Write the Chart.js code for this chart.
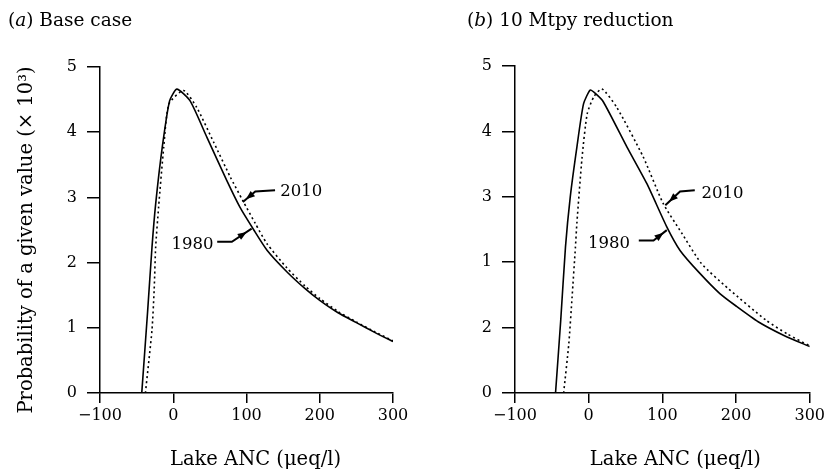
<!DOCTYPE html>
<html>
<head>
<meta charset="utf-8">
<script src="https://cdn.jsdelivr.net/npm/chart.js@4.4.1/dist/chart.umd.min.js"></script>
<style>
  body { margin: 0; background: #fff; }
  #page { position: relative; width: 828px; height: 473px; font-family: "DejaVu Serif", serif; color: #000; }
  .panel { position: absolute; top: 0; width: 414px; height: 473px; }
  .ptitle { position: absolute; top: 9px; font-size: 18.5px; white-space: nowrap; }
</style>
</head>
<body>
<div id="page">
  <div class="panel" style="left:0"><canvas id="chartA"></canvas></div>
  <div class="panel" style="left:414px"><canvas id="chartB"></canvas></div>
  <div class="ptitle" style="left:8px">(<i>a</i>) Base case</div>
  <div class="ptitle" style="left:467px">(<i>b</i>) 10 Mtpy reduction</div>
</div>
<script>
// Panel (a) base case
const ancA1980 = [-43, -35, -29, -24, -15, -5, 5, 23, 46, 73, 91, 110, 128, 155, 180, 200, 225, 250, 275, 300];
const probA1980 = [0, 1.25, 2.24, 2.9, 3.77, 4.48, 4.66, 4.48, 3.92, 3.26, 2.85, 2.5, 2.19, 1.86, 1.6, 1.42, 1.23, 1.08, 0.93, 0.79];
const ancA2010 = [-38, -29, -26, -24, -20, -13, -6, 14, 32, 55, 78, 95, 112, 128, 155, 180, 200, 225, 250, 275, 300];
const probA2010 = [0, 0.97, 1.6, 2.24, 2.85, 3.77, 4.43, 4.64, 4.38, 3.85, 3.31, 2.95, 2.6, 2.29, 1.92, 1.64, 1.45, 1.25, 1.09, 0.94, 0.8];

// Panel (b) 10 Mtpy reduction
const ancB1980 = [-45, -38, -31.5, -25, -16, -7, 2, 9, 20, 52, 79, 106, 124, 150, 178, 200, 230, 265, 300];
const probB1980 = [0, 1.1, 2.23, 3.0, 3.76, 4.42, 4.63, 4.58, 4.45, 3.76, 3.2, 2.54, 2.18, 1.84, 1.52, 1.33, 1.09, 0.88, 0.71];
const ancB2010 = [-34, -27, -22.5, -18, -16, -9, -2, 7, 18, 38, 74, 101, 126, 153, 189, 241, 270, 300];
const probB2010 = [0, 0.75, 1.47, 2.23, 2.6, 3.6, 4.27, 4.53, 4.65, 4.37, 3.61, 2.9, 2.45, 1.98, 1.6, 1.11, 0.9, 0.72];

// tick labels (panel b prints 2 and 1 swapped, as in the original figure)
const xTicks = [-100, 0, 100, 200, 300];
const yTickLabelsA = ["0", "1", "2", "3", "4", "5"];
const yTickLabelsB = ["0", "2", "1", "3", "4", "5"];

const yTitle = "Probability of a given value (× 10³)";
const xTitle = "Lake ANC (μeq/l)";

// callouts in data units: label anchor + leader path (last point = arrow tip)
const calloutsA = [
  { text: "2010", tx: 146, ty: 3.08, align: "left", path: [[139, 3.11], [112, 3.09], [95, 2.93]] },
  { text: "1980", tx: 55, ty: 2.27, align: "right", path: [[60, 2.32], [80, 2.32], [107, 2.52]] }
];
const calloutsB = [
  { text: "2010", tx: 153, ty: 3.05, align: "left", path: [[144, 3.10], [124, 3.08], [104, 2.87]] },
  { text: "1980", tx: 56, ty: 2.28, align: "right", path: [[68, 2.33], [88, 2.33], [106, 2.49]] }
];

const FONT = "DejaVu Serif";
const toPts = (xs, ys) => xs.map((v, i) => ({ x: v, y: ys[i] }));

const calloutPlugin = {
  id: "callouts",
  afterDatasetsDraw(chart, args, opts) {
    const { ctx, scales: { x, y } } = chart;
    (opts.items || []).forEach(item => {
      const pts = item.path.map(p => [x.getPixelForValue(p[0]), y.getPixelForValue(p[1])]);
      ctx.save();
      ctx.strokeStyle = "#000";
      ctx.fillStyle = "#000";
      ctx.lineWidth = 2;
      ctx.beginPath();
      pts.forEach((p, i) => (i ? ctx.lineTo(p[0], p[1]) : ctx.moveTo(p[0], p[1])));
      ctx.stroke();
      // arrow head on the last segment
      const a = pts[pts.length - 2], b = pts[pts.length - 1];
      const ang = Math.atan2(b[1] - a[1], b[0] - a[0]);
      const hx = a[0] + (b[0] - a[0]) * 0.75, hy = a[1] + (b[1] - a[1]) * 0.75;
      ctx.beginPath();
      ctx.moveTo(hx, hy);
      ctx.lineTo(hx - 9 * Math.cos(ang) + 3.5 * Math.sin(ang), hy - 9 * Math.sin(ang) - 3.5 * Math.cos(ang));
      ctx.lineTo(hx - 9 * Math.cos(ang) - 3.5 * Math.sin(ang), hy - 9 * Math.sin(ang) + 3.5 * Math.cos(ang));
      ctx.closePath();
      ctx.fill();
      ctx.font = "16.5px '" + FONT + "'";
      ctx.textAlign = item.align;
      ctx.textBaseline = "middle";
      ctx.fillText(item.text, x.getPixelForValue(item.tx), y.getPixelForValue(item.ty));
      ctx.restore();
    });
  }
};

// axis titles drawn by hand so they can sit where the original puts them
const axisTitlePlugin = {
  id: "axisTitles",
  afterDraw(chart, args, opts) {
    const { ctx, chartArea } = chart;
    ctx.save();
    ctx.font = "19.5px '" + FONT + "'";
    ctx.fillStyle = "#000";
    ctx.textAlign = "center";
    ctx.textBaseline = "middle";
    ctx.fillText(opts.xText, (chartArea.left + chartArea.right) / 2 + opts.xShift, opts.xTitleY);
    if (opts.yText) {
      ctx.translate(opts.yTitleX, (chartArea.top + chartArea.bottom) / 2 + 10);
      ctx.rotate(-Math.PI / 2);
      ctx.fillText(opts.yText, 0, 0);
    }
    ctx.restore();
  }
};

function makeChart(id, s1980x, s1980y, s2010x, s2010y, yLabels, callouts, pad, showYTitle, xShift) {
  const tickFont = { family: FONT, size: 16 };
  return new Chart(document.getElementById(id), {
    type: "line",
    data: {
      datasets: [
        {
          label: "1980",
          data: toPts(s1980x, s1980y),
          borderColor: "#000",
          borderWidth: 1.6,
          pointRadius: 0,
          tension: 0.2,
          fill: false
        },
        {
          label: "2010",
          data: toPts(s2010x, s2010y),
          borderColor: "#000",
          borderWidth: 1.6,
          borderDash: [2, 3],
          pointRadius: 0,
          tension: 0.2,
          fill: false
        }
      ]
    },
    options: {
      responsive: true,
      maintainAspectRatio: false,
      animation: false,
      layout: { padding: pad },
      plugins: {
        legend: { display: false },
        tooltip: { enabled: false },
        callouts: { items: callouts },
        axisTitles: {
          xText: xTitle, xShift: xShift, xTitleY: 460,
          yText: showYTitle ? yTitle : "", yTitleX: 27
        }
      },
      scales: {
        x: {
          type: "linear",
          min: -100,
          max: 300,
          afterBuildTicks: s => { s.ticks = xTicks.map(v => ({ value: v })); },
          afterFit: s => { s.height = 80; },
          ticks: {
            color: "#000",
            font: tickFont,
            padding: 3,
            maxRotation: 0,
            callback: v => (v < 0 ? "−" + Math.abs(v) : String(v))
          },
          grid: { drawOnChartArea: false, drawTicks: true, tickLength: 10, color: "#000", lineWidth: 1.5 },
          border: { color: "#000", width: 1.5 }
        },
        y: {
          min: 0,
          max: 5,
          afterFit: s => { s.width = pad.yWidth; },
          ticks: {
            stepSize: 1,
            color: "#000",
            font: tickFont,
            padding: 10,
            callback: v => yLabels[v]
          },
          grid: { drawOnChartArea: false, drawTicks: true, tickLength: 13, color: "#000", lineWidth: 1.5 },
          border: { color: "#000", width: 1.5 }
        }
      }
    },
    plugins: [calloutPlugin, axisTitlePlugin]
  });
}

makeChart("chartA", ancA1980, probA1980, ancA2010, probA2010, yTickLabelsA, calloutsA,
  { top: 67, right: 21, bottom: 0, left: 0, yWidth: 100 }, true, 9);
makeChart("chartB", ancB1980, probB1980, ancB2010, probB2010, yTickLabelsB, calloutsB,
  { top: 66, right: 18, bottom: 0, left: 0, yWidth: 101 }, false, 13);
</script>
</body>
</html>
